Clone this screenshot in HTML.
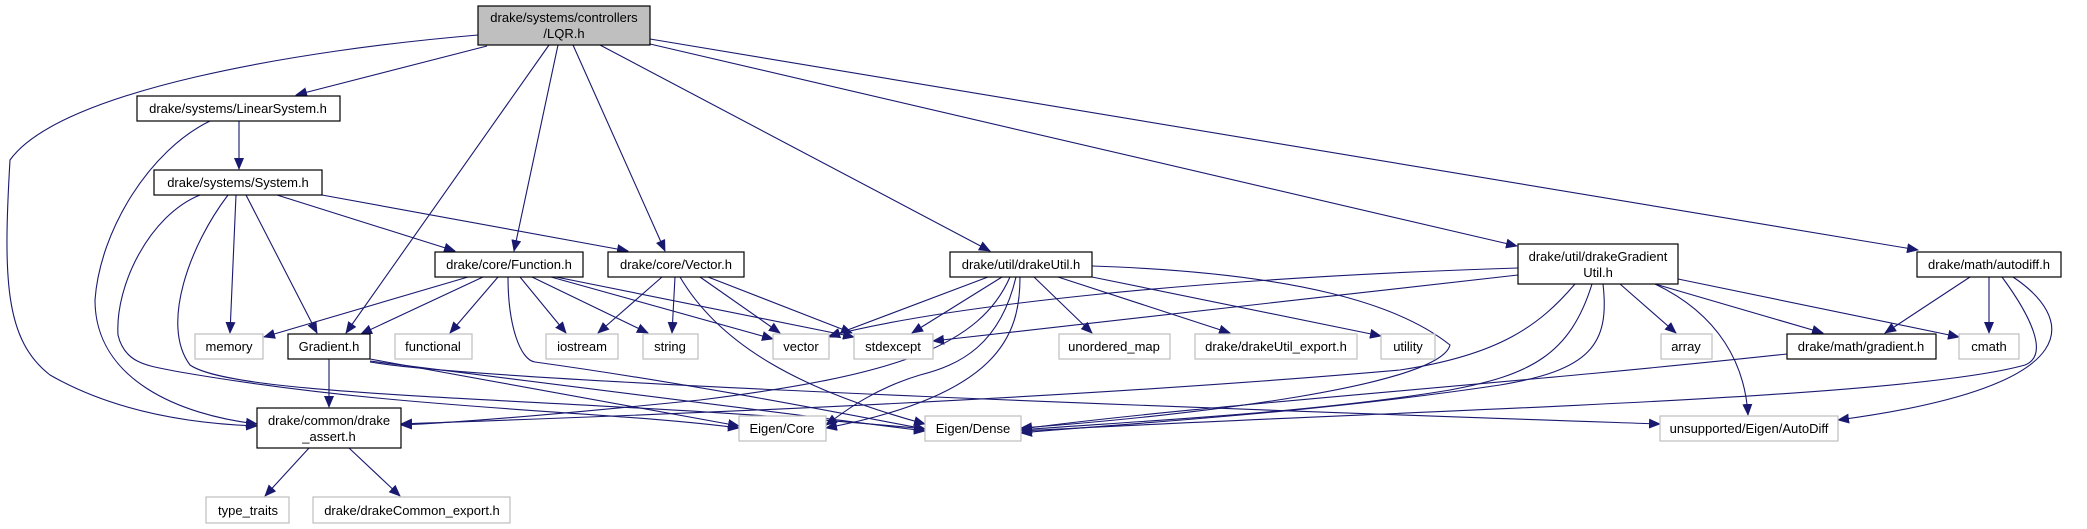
<!DOCTYPE html>
<html><head><meta charset="utf-8"><style>
html,body{margin:0;padding:0;background:#fff;}
svg{display:block;}
text{font-family:"Liberation Sans",Arial,sans-serif;font-size:13px;fill:#000;text-anchor:middle;}
.b{fill:#fff;stroke:#000;stroke-width:1.2;}
.g{fill:#fff;stroke:#bfbfbf;stroke-width:1.2;}
.e{fill:none;stroke:#191970;stroke-width:1.1;marker-end:url(#a);}
</style></head><body>
<svg width="2087" height="529" viewBox="0 0 2087 529" xmlns="http://www.w3.org/2000/svg">
<defs><marker id="a" markerUnits="userSpaceOnUse" markerWidth="12" markerHeight="10" refX="11" refY="5" orient="auto"><path d="M0,0 L12,5 L0,10 z" fill="#191970"/></marker></defs>

<!-- edges -->
<path class="e" d="M487,46 L296,95"/>
<path class="e" d="M549,45 L346,333"/>
<path class="e" d="M558,45 L514,251"/>
<path class="e" d="M573,45 L665,251"/>
<path class="e" d="M600,45 L990,251"/>
<path class="e" d="M650,44 L1517,246"/>
<path class="e" d="M650,39 L1918,250"/>
<path class="e" d="M478,35 C300,50 60,90 10,160 C3,280 5,340 50,375 C120,415 200,424 257,426"/>
<path class="e" d="M239,121 L239,169"/>
<path class="e" d="M210,121 C150,150 100,230 95,300 C95,380 180,415 257,424"/>
<path class="e" d="M236,195 L230,333"/>
<path class="e" d="M246,195 L317,333"/>
<path class="e" d="M277,195 L455,251"/>
<path class="e" d="M322,195 L628,251"/>
<path class="e" d="M200,195 C150,215 115,285 118,335 C125,365 150,366 180,372 C400,410 600,410 739,428"/>
<path class="e" d="M228,195 C190,245 160,325 190,365 C240,400 600,397 925,429"/>
<path class="e" d="M468,277 L264,337"/>
<path class="e" d="M483,277 L361,334"/>
<path class="e" d="M498,277 L450,333"/>
<path class="e" d="M520,277 L566,333"/>
<path class="e" d="M532,277 L648,333"/>
<path class="e" d="M551,277 L773,339"/>
<path class="e" d="M556,277 L854,337"/>
<path class="e" d="M508,277 C508,325 520,360 535,362 C700,385 850,415 925,429"/>
<path class="e" d="M662,277 L598,333"/>
<path class="e" d="M675,277 L672,333"/>
<path class="e" d="M700,277 L780,333"/>
<path class="e" d="M708,277 L852,333"/>
<path class="e" d="M680,277 C720,345 800,390 925,424"/>
<path class="e" d="M329,359 L329,407"/>
<path class="e" d="M370,359 L739,426"/>
<path class="e" d="M370,361 L925,431"/>
<path class="e" d="M370,362 C500,385 1400,415 1660,424"/>
<path class="e" d="M309,448 L265,496"/>
<path class="e" d="M349,448 L400,496"/>
<path class="e" d="M988,277 L829,337"/>
<path class="e" d="M1002,277 L912,333"/>
<path class="e" d="M1034,277 L1092,333"/>
<path class="e" d="M1058,277 L1230,333"/>
<path class="e" d="M1092,277 L1381,336"/>
<path class="e" d="M1016,277 C1000,345 960,365 920,375 C870,390 840,415 826,425"/>
<path class="e" d="M1020,277 C1020,335 1000,395 826,428"/>
<path class="e" d="M1010,277 C980,345 900,375 700,400 C550,415 450,423 401,425"/>
<path class="e" d="M1092,266 C1300,273 1400,305 1450,345 C1440,385 1200,415 1021,428"/>
<path class="e" d="M1518,268 C1200,278 950,305 829,336"/>
<path class="e" d="M1518,275 L933,341"/>
<path class="e" d="M1620,284 L1676,333"/>
<path class="e" d="M1655,284 L1823,333"/>
<path class="e" d="M1678,279 L1959,337"/>
<path class="e" d="M1655,284 C1720,315 1745,365 1748,415"/>
<path class="e" d="M1592,284 C1570,355 1530,375 1450,390 C1300,415 1100,423 1021,430"/>
<path class="e" d="M1603,284 C1610,345 1590,370 1500,385 C1300,415 1100,425 1021,433"/>
<path class="e" d="M1575,284 C1540,325 1500,355 1400,370 C1000,405 500,420 401,424"/>
<path class="e" d="M1787,354 C1500,385 1200,405 1021,429"/>
<path class="e" d="M1970,277 L1885,333"/>
<path class="e" d="M1989,277 L1989,333"/>
<path class="e" d="M2002,277 C2030,315 2050,355 2025,365 C1900,400 1400,410 1021,431"/>
<path class="e" d="M2013,277 C2070,315 2100,385 1838,420"/>

<!-- nodes -->
<rect x="478" y="6" width="172" height="39" fill="#bfbfbf" stroke="#000" stroke-width="1.2"/>
<text x="564" y="22">drake/systems/controllers</text><text x="564" y="38">/LQR.h</text>
<rect class="b" x="137" y="96" width="203" height="25"/><text x="238" y="113">drake/systems/LinearSystem.h</text>
<rect class="b" x="154" y="170" width="168" height="25"/><text x="238" y="187">drake/systems/System.h</text>
<rect class="b" x="435" y="252" width="148" height="25"/><text x="509" y="269">drake/core/Function.h</text>
<rect class="b" x="608" y="252" width="136" height="25"/><text x="676" y="269">drake/core/Vector.h</text>
<rect class="b" x="950" y="252" width="142" height="25"/><text x="1021" y="269">drake/util/drakeUtil.h</text>
<rect class="b" x="1518" y="244" width="160" height="40"/><text x="1598" y="261">drake/util/drakeGradient</text><text x="1598" y="277">Util.h</text>
<rect class="b" x="1917" y="252" width="144" height="25"/><text x="1989" y="269">drake/math/autodiff.h</text>
<rect class="g" x="195" y="334" width="68" height="25"/><text x="229" y="351">memory</text>
<rect class="b" x="288" y="334" width="82" height="25"/><text x="329" y="351">Gradient.h</text>
<rect class="g" x="395" y="334" width="77" height="25"/><text x="433" y="351">functional</text>
<rect class="g" x="546" y="334" width="72" height="25"/><text x="582" y="351">iostream</text>
<rect class="g" x="643" y="334" width="55" height="25"/><text x="670" y="351">string</text>
<rect class="g" x="773" y="334" width="56" height="25"/><text x="801" y="351">vector</text>
<rect class="g" x="854" y="334" width="79" height="25"/><text x="893" y="351">stdexcept</text>
<rect class="g" x="1059" y="334" width="111" height="25"/><text x="1114" y="351">unordered_map</text>
<rect class="g" x="1195" y="334" width="162" height="25"/><text x="1276" y="351">drake/drakeUtil_export.h</text>
<rect class="g" x="1381" y="334" width="54" height="25"/><text x="1408" y="351">utility</text>
<rect class="g" x="1661" y="334" width="51" height="25"/><text x="1686" y="351">array</text>
<rect class="b" x="1787" y="334" width="149" height="25"/><text x="1861" y="351">drake/math/gradient.h</text>
<rect class="g" x="1959" y="334" width="60" height="25"/><text x="1989" y="351">cmath</text>
<rect class="b" x="257" y="408" width="144" height="40"/><text x="329" y="425">drake/common/drake</text><text x="329" y="441">_assert.h</text>
<rect class="g" x="739" y="416" width="87" height="25"/><text x="782" y="433">Eigen/Core</text>
<rect class="g" x="925" y="416" width="96" height="25"/><text x="973" y="433">Eigen/Dense</text>
<rect class="g" x="1660" y="416" width="178" height="25"/><text x="1749" y="433">unsupported/Eigen/AutoDiff</text>
<rect class="g" x="206" y="497" width="83" height="26"/><text x="248" y="515">type_traits</text>
<rect class="g" x="313" y="497" width="197" height="26"/><text x="412" y="515">drake/drakeCommon_export.h</text>
</svg>
</body></html>
